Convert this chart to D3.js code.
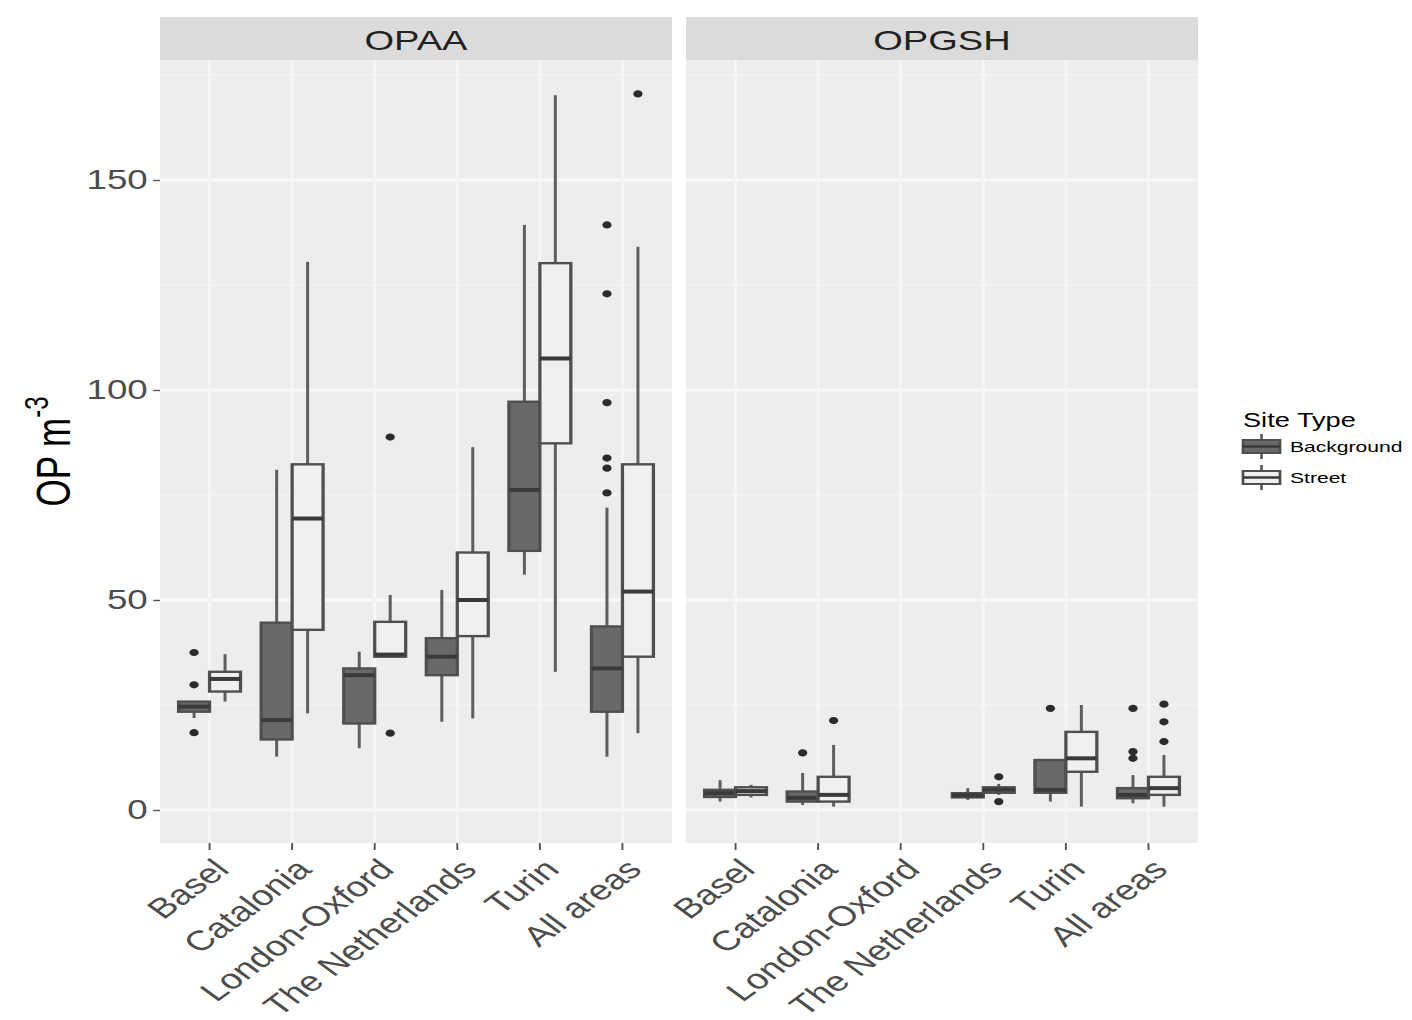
<!DOCTYPE html>
<html>
<head>
<meta charset="utf-8">
<script src="https://cdn.jsdelivr.net/npm/d3@7"></script>
<style>
  html, body { margin: 0; padding: 0; background: #ffffff; }
  svg { display: block; }
  text { font-family: "Liberation Sans", Arial, Helvetica, sans-serif; }
</style>
</head>
<body>
<div id="chart"></div>
<script>
// ---------------- data ----------------
const categories = ["Basel", "Catalonia", "London-Oxford", "The Netherlands", "Turin", "All areas"];
const panels = ["OPAA", "OPGSH"];
const siteTypes = ["Background", "Street"];
const yTicks = [0, 50, 100, 150];
const yTickLabels = ["0", "50", "100", "150"];
const yMinorTicks = [25, 75, 125, 175];

// five-number boxplot stats per category: [lower whisker, Q1, median, Q3, upper whisker]
const opaaBackground = [
  [21.9, 23.4, 24.6, 25.8, 25.8],
  [12.7, 16.8, 21.4, 44.6, 81.0],
  [14.7, 20.6, 32.1, 33.7, 37.7],
  [21.0, 32.1, 36.5, 40.9, 52.4],
  [56.0, 61.7, 76.2, 97.2, 139.3],
  [12.7, 23.4, 33.7, 43.7, 72.0]
];
const opaaStreet = [
  [25.8, 28.2, 31.2, 32.9, 37.1],
  [23.0, 42.9, 69.4, 82.3, 130.5],
  [36.5, 36.5, 37.0, 44.8, 51.2],
  [21.8, 41.4, 50.0, 61.3, 86.4],
  [32.9, 87.3, 107.5, 130.2, 170.2],
  [18.3, 36.5, 52.0, 82.3, 134.1]
];
const opgshBackground = [
  [2.0, 3.1, 4.0, 4.8, 7.1],
  [1.2, 2.0, 2.9, 4.4, 8.8],
  null,
  [2.4, 3.0, 3.5, 4.0, 5.2],
  [2.0, 4.1, 4.8, 11.9, 11.9],
  [1.6, 2.8, 3.6, 5.2, 8.3]
];
const opgshStreet = [
  [3.0, 3.6, 4.5, 5.4, 6.0],
  [0.8, 2.0, 3.6, 7.9, 15.5],
  null,
  [3.6, 4.1, 4.8, 5.4, 6.2],
  [0.8, 9.1, 12.3, 18.6, 25.0],
  [0.8, 3.6, 5.2, 7.9, 13.1]
];

// outliers per category
const opaaBackgroundOutliers = [[37.5, 29.8, 18.4], [], [], [], [], [139.3, 122.9, 97.0, 83.8, 81.4, 75.5]];
const opaaStreetOutliers = [[], [], [88.8, 18.3], [], [], [170.5]];
const opgshBackgroundOutliers = [[], [13.6], [], [], [24.2], [24.2, 13.9, 12.3]];
const opgshStreetOutliers = [[], [21.3], [], [7.9, 2.0], [], [25.2, 21.0, 16.3]];

// ---------------- layout ----------------
const W = 1412, H = 1020;
const S = 1.36;                 // horizontal stretch of the reference picture
const VW = W / S;
const ux = px => px / S;

const svg = d3.select("#chart").append("svg")
  .attr("width", W).attr("height", H)
  .attr("viewBox", `0 0 ${VW} ${H}`)
  .attr("preserveAspectRatio", "none");

const panelPx = [[160, 672], [686, 1198]];
const plotTop = 60, plotBottom = 843, stripTop = 17;

const y = d3.scaleLinear().domain([-7.86, 178.57]).range([plotBottom, plotTop]);

const statsByPanel = [[opaaBackground, opaaStreet], [opgshBackground, opgshStreet]];
const outliersByPanel = [[opaaBackgroundOutliers, opaaStreetOutliers], [opgshBackgroundOutliers, opgshStreetOutliers]];
const fills = { Background: "#696969", Street: "#F0F0F0" };
const boxStroke = "#4f4f4f";

panels.forEach((panelName, p) => {
  const x0 = ux(panelPx[p][0]), x1 = ux(panelPx[p][1]);
  const x = d3.scalePoint().domain(categories).range([x0, x1]).padding(0.6);
  const step = x.step();
  const g = svg.append("g");

  // panel background
  g.append("rect").attr("x", x0).attr("y", plotTop)
    .attr("width", x1 - x0).attr("height", plotBottom - plotTop).attr("fill", "#EDEDED");

  // minor horizontal grid
  g.selectAll(".minor").data(yMinorTicks.filter(v => y(v) > plotTop)).join("line")
    .attr("x1", x0).attr("x2", x1).attr("y1", d => y(d)).attr("y2", d => y(d))
    .attr("stroke", "#F3F3F3").attr("stroke-width", 1.6);
  // major horizontal grid
  g.selectAll(".major").data(yTicks).join("line")
    .attr("x1", x0).attr("x2", x1).attr("y1", d => y(d)).attr("y2", d => y(d))
    .attr("stroke", "#F8F8F8").attr("stroke-width", 3);
  // vertical grid at categories
  g.selectAll(".vgrid").data(categories).join("line")
    .attr("x1", d => x(d)).attr("x2", d => x(d)).attr("y1", plotTop).attr("y2", plotBottom)
    .attr("stroke", "#F6F6F6").attr("stroke-width", 2.2);

  // strip
  g.append("rect").attr("x", x0).attr("y", stripTop)
    .attr("width", x1 - x0).attr("height", plotTop - stripTop).attr("fill", "#DBDBDB");
  g.append("text").attr("x", (x0 + x1) / 2).attr("y", (stripTop + plotTop) / 2 + 1)
    .attr("dy", "0.36em").attr("text-anchor", "middle")
    .attr("font-size", 28).attr("fill", "#222").text(panelName);

  // boxplots
  siteTypes.forEach((st, s) => {
    const stats = statsByPanel[p][s];
    const outl = outliersByPanel[p][s];
    const off = (s === 0 ? -1 : 1) * 0.1875 * step;
    const bw = 0.375 * step;
    const rows = categories.map((c, i) => ({ c, i, d: stats[i], o: outl[i] })).filter(r => r.d);
    const bg = g.append("g");

    bg.selectAll(".wlo").data(rows).join("line")
      .attr("x1", r => x(r.c) + off).attr("x2", r => x(r.c) + off)
      .attr("y1", r => y(r.d[0])).attr("y2", r => y(r.d[1]))
      .attr("stroke", "#5e5e5e").attr("stroke-width", 2.2);
    bg.selectAll(".whi").data(rows).join("line")
      .attr("x1", r => x(r.c) + off).attr("x2", r => x(r.c) + off)
      .attr("y1", r => y(r.d[3])).attr("y2", r => y(r.d[4]))
      .attr("stroke", "#5e5e5e").attr("stroke-width", 2.2);
    bg.selectAll(".box").data(rows).join("rect")
      .attr("x", r => x(r.c) + off - bw / 2).attr("width", bw)
      .attr("y", r => y(r.d[3])).attr("height", r => Math.max(0.5, y(r.d[1]) - y(r.d[3])))
      .attr("fill", fills[st]).attr("stroke", boxStroke).attr("stroke-width", 2.4);
    bg.selectAll(".med").data(rows).join("line")
      .attr("x1", r => x(r.c) + off - bw / 2).attr("x2", r => x(r.c) + off + bw / 2)
      .attr("y1", r => y(r.d[2])).attr("y2", r => y(r.d[2]))
      .attr("stroke", "#3a3a3a").attr("stroke-width", 4);
    const pts = rows.flatMap(r => r.o.map(v => ({ c: r.c, v })));
    bg.selectAll(".out").data(pts).join("ellipse")
      .attr("cx", d => x(d.c) + off).attr("cy", d => y(d.v))
      .attr("rx", 3.4).attr("ry", 3.6).attr("fill", "#2b2b2b");
  });

  // x axis ticks
  g.selectAll(".xtick").data(categories).join("line")
    .attr("x1", d => x(d)).attr("x2", d => x(d))
    .attr("y1", plotBottom).attr("y2", plotBottom + 7)
    .attr("stroke", "#555").attr("stroke-width", 1.4);
  // x axis labels
  g.selectAll(".xlab").data(categories).join("text")
    .attr("transform", d => `translate(${x(d) + ux(2)},${plotBottom + 14}) rotate(-45)`)
    .attr("text-anchor", "end").attr("dy", "0.71em")
    .attr("font-size", 28).attr("fill", "#4D4D4D").text(d => d);
});

// y axis (left panel)
const yAxisG = svg.append("g").attr("transform", `translate(${ux(panelPx[0][0])},0)`);
yAxisG.call(d3.axisLeft(y).tickValues(yTicks).tickFormat((d, i) => yTickLabels[i]).tickSize(5).tickPadding(4));
yAxisG.select(".domain").remove();
yAxisG.selectAll(".tick line").attr("stroke", "#555").attr("stroke-width", 1.4);
yAxisG.selectAll(".tick text").attr("font-size", 27).attr("fill", "#4D4D4D")
  .attr("font-family", "\"Liberation Sans\", Arial, Helvetica, sans-serif");

// y title
const yt = svg.append("text")
  .attr("transform", `translate(${ux(70)},${(plotTop + plotBottom) / 2}) rotate(-90)`)
  .attr("text-anchor", "middle").attr("font-size", 35).attr("fill", "#000");
yt.append("tspan").text("OP m");
yt.append("tspan").attr("font-size", 24).attr("dy", -16).text("-3");

// legend
const lg = svg.append("g");
lg.append("text").attr("x", ux(1243)).attr("y", 427).attr("font-size", 20).attr("fill", "#000").text("Site Type");
const keyTop = [434, 465];
const keys = lg.selectAll(".key").data(siteTypes).join("g")
  .attr("transform", (d, i) => `translate(0,${keyTop[i]})`);
const kx0 = ux(1243), kx1 = ux(1280), kcx = (kx0 + kx1) / 2;
keys.append("line").attr("x1", kcx).attr("x2", kcx).attr("y1", 0).attr("y2", 25)
  .attr("stroke", "#5e5e5e").attr("stroke-width", 2);
keys.append("rect").attr("x", kx0).attr("y", 6).attr("width", kx1 - kx0).attr("height", 13)
  .attr("fill", d => fills[d]).attr("stroke", boxStroke).attr("stroke-width", 2);
keys.append("line").attr("x1", kx0).attr("x2", kx1).attr("y1", 12.5).attr("y2", 12.5)
  .attr("stroke", "#3a3a3a").attr("stroke-width", 2.5);
keys.append("text").attr("x", ux(1290)).attr("y", 18).attr("font-size", 15.5).attr("fill", "#000").text(d => d);
</script>
</body>
</html>
